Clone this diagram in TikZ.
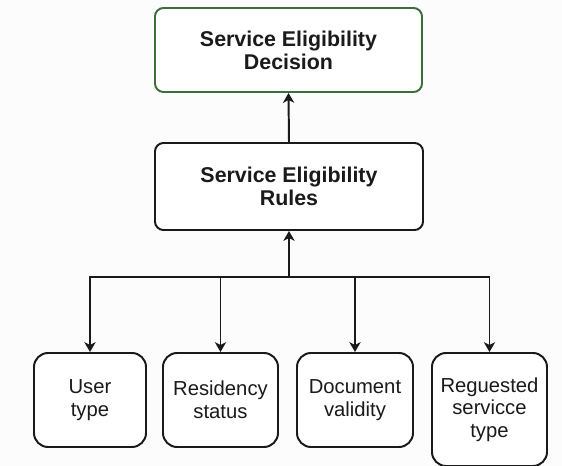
\documentclass[tikz,border=0pt]{standalone}
\usepackage{fontspec}
\setmainfont{Liberation Sans}
\usetikzlibrary{arrows.meta,positioning,calc}
\definecolor{Ink}{HTML}{1A1A1A}
\definecolor{Leaf}{HTML}{3C6E3C}
\definecolor{Paper}{HTML}{FCFCFC}

\begin{document}
\begin{tikzpicture}[x=0.025cm,y=-0.025cm,>={Stealth[length=7pt,width=8pt,inset=2pt]}]
\tikzset{
  headbox/.style={draw=Ink,rounded corners=6pt,line width=1.4pt,fill=white,align=center,
    font=\fontsize{15.2}{16.5}\selectfont\bfseries,text=Ink,inner sep=0pt},
  factbox/.style={draw=Ink,rounded corners=10pt,line width=1.4pt,fill=white,align=center,
    font=\fontsize{14.4}{16}\selectfont,text=Ink,inner sep=0pt,minimum height=94*0.025cm},
  link/.style={->,draw=Ink,line width=1.4pt},
}
\fill[Paper] (0,0) rectangle (562,466);
\useasboundingbox (0,0) rectangle (562,466);
% top: decision and rules
\node[headbox,draw=Leaf,minimum width=267*0.025cm,minimum height=84*0.025cm] (decision) at (288.5,50) {Service Eligibility\\Decision};
\node[headbox,minimum width=268*0.025cm,minimum height=87*0.025cm] (rules) at (289,186.5) {Service Eligibility\\Rules};
% bottom: factors
\node[factbox,minimum width=112*0.025cm] (usertype) at (90,400) {User\\type};
\node[factbox,minimum width=115*0.025cm] (residency) at (220.5,400) {Residency\\status};
\node[factbox,minimum width=116*0.025cm] (document) at (355,400) {Document\\validity};
\node[factbox,minimum width=115*0.025cm,minimum height=113*0.025cm] (requested) at (489.5,409.5) {Reguested\\servicce\\type};
\coordinate (bus) at (289,277);
\draw[link] (rules.north) -- (decision.south);
\draw[link] (bus) -- (rules.south);
\draw[link] (bus) -| (usertype.north);
\draw[link] (bus) -| (residency.north);
\draw[link] (bus) -| (document.north);
\draw[link] (bus) -| (requested.north);
\end{tikzpicture}
\end{document}
